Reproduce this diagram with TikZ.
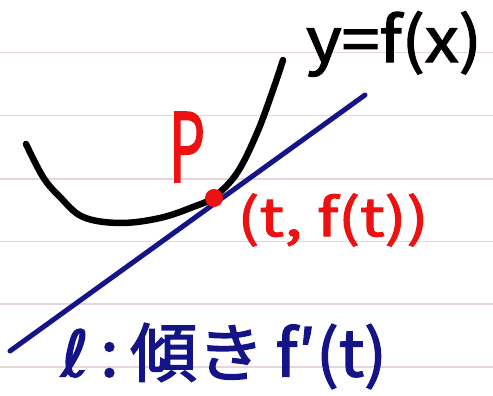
\documentclass[tikz,border=0pt]{standalone}
\usepackage{fontspec}
\newfontfamily\hand[FakeBold=2]{Noto Sans CJK JP}
\newfontfamily\handdv[FakeBold=2]{DejaVu Sans}
\definecolor{paperline}{HTML}{E6D6DB}
\definecolor{inkred}{HTML}{EE1111}
\definecolor{inkblue}{HTML}{141488}
\begin{document}
\begin{tikzpicture}[x=1pt,y=-1pt,
  ruling/.style={draw=paperline,line width=1.5pt},
  curveink/.style={draw=black,line width=6.5pt,line cap=round,line join=round},
  tangentink/.style={draw=inkblue,line width=5pt,line cap=round},
  redtext/.style={text=inkred,inner sep=0pt,font=\hand},
  bluetext/.style={text=inkblue,inner sep=0pt,font=\hand},
  blacktext/.style={text=black,inner sep=0pt,font=\hand}]
\useasboundingbox (0,0) rectangle (493,396);
\fill[white] (0,0) rectangle (493,396);
\foreach \yy in {52.5,115.7,179,241.5,304,367}
  \draw[ruling] (0,\yy) -- (493,\yy);
% curve y = f(x)
\draw[curveink] plot[smooth,tension=0.6] coordinates {(26,144) (43,177) (60,197) (83,217) (120,223) (160,218) (193,207) (214,197) (237,173) (257,133) (273,90) (283,60)};
% tangent line
\coordinate (lA) at (10,351);
\coordinate (lB) at (365,95);
\draw[tangentink] (lA) -- (lB);
% point P
\node[circle,fill=inkred,minimum size=18pt,inner sep=0pt] (pt) at (214,198) {};
% labels
\node[redtext,font=\hand\fontsize{95}{95}\selectfont,xscale=0.6] (lblP) at (187,147) {P};
\node[redtext,font=\hand\fontsize{52}{52}\selectfont,xscale=1.25] (lblPt) at (333,220) {(t, f(t))};
\node[blacktext,font=\hand\fontsize{62}{62}\selectfont,xscale=1.1] (lblf) at (394,44) {y=f(x)};
\node[bluetext,font=\hand\fontsize{64}{64}\selectfont,xscale=1.05] (lbll) at (224,356) {{\handdv ℓ}\,:\,傾き\,f′(t)};
\end{tikzpicture}
\end{document}
